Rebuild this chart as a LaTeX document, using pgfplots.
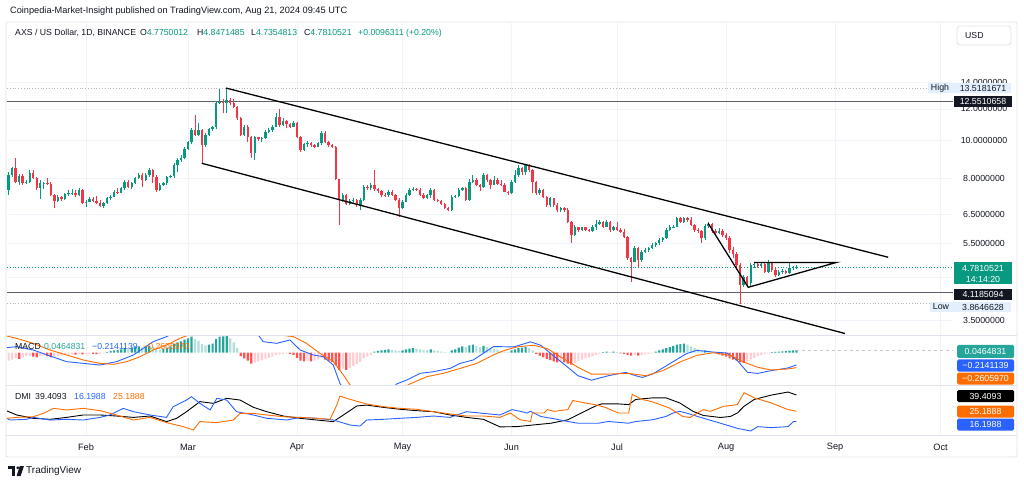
\documentclass[border=0pt]{standalone}
\usepackage{fontspec}
\setmainfont{Liberation Sans}
\usepackage{pgfplots}
\usepackage{pgfplotstable}
\pgfplotsset{compat=1.18}
\definecolor{upc}{HTML}{089981}
\definecolor{dnc}{HTML}{F23645}
\definecolor{hG}{HTML}{26A69A}
\definecolor{hg}{HTML}{B2DFDB}
\definecolor{hR}{HTML}{FF5252}
\definecolor{hr}{HTML}{FFCDD2}
\definecolor{tvblue}{HTML}{2962FF}
\definecolor{tvorange}{HTML}{FF6D00}
\definecolor{gridc}{HTML}{F0F3FA}
\definecolor{txt}{HTML}{131722}
\definecolor{sep}{HTML}{E0E3EB}
\definecolor{lbl}{HTML}{E3EFFD}
\definecolor{hl}{HTML}{5D606B}
\definecolor{dotc}{HTML}{B2B5BE}
\newcommand{\tf}{\fontsize{8.8bp}{10bp}\selectfont}
\newcommand{\lf}{\fontsize{9.2bp}{11bp}\selectfont}
\newcommand{\gf}{\fontsize{8.7bp}{10bp}\selectfont}
\pgfplotsset{
  pane/.style={scale only axis, width=946bp, xmin=8.54, xmax=277.52, anchor=north west,
    axis line style={draw=none}, tick style={draw=none},
    xtick={31,60,91,121,152,182,213,244,274}, xmajorgrids,
    major grid style={draw=gridc, line width=0.8bp}, clip=true,
    /pgf/number format/assume math mode=true},
  candle/.style 2 args={draw=none, mark=none, forget plot,
    error bars/.cd, y dir=plus, y explicit, error mark=none,
    error bar style={line width=#1, draw=#2, solid}},
}
\pgfplotstableread{
d o h l c u
9 7.491 8.331 7.277 8.173 1
10 8.173 8.550 8.091 8.501 1
11 8.501 9.010 7.788 7.861 0
12 7.861 8.207 7.712 8.140 1
13 8.140 8.207 7.712 7.788 0
14 7.788 7.939 7.757 7.861 1
15 7.861 8.414 7.816 8.255 1
16 8.255 8.414 7.970 8.015 0
17 8.015 8.091 7.491 7.568 0
18 7.568 7.939 7.109 7.788 1
19 7.788 7.861 7.548 7.816 1
20 7.816 8.015 7.712 7.757 0
21 7.757 7.861 7.234 7.277 0
22 7.277 7.300 6.736 7.039 0
23 7.039 7.277 6.999 7.204 1
24 7.204 7.234 7.039 7.109 0
25 7.109 7.349 7.068 7.319 1
26 7.319 7.491 7.234 7.349 1
27 7.349 7.525 7.277 7.375 1
28 7.375 7.491 7.204 7.263 0
29 7.263 7.568 7.234 7.491 1
30 7.491 7.525 6.893 6.934 0
31 6.934 7.068 6.797 6.999 1
32 6.999 7.179 6.974 7.096 1
33 7.096 7.204 6.999 7.039 0
34 7.039 7.247 6.905 6.958 0
35 6.958 7.068 6.774 6.826 0
36 6.826 6.999 6.736 6.934 1
37 6.934 7.179 6.905 7.137 1
38 7.137 7.277 7.068 7.204 1
39 7.204 7.491 7.179 7.417 1
40 7.417 7.568 7.319 7.375 0
41 7.375 7.610 7.349 7.568 1
42 7.568 7.939 7.491 7.861 1
43 7.861 7.939 7.568 7.610 0
44 7.610 7.861 7.525 7.816 1
45 7.816 8.091 7.757 8.015 1
46 8.015 8.284 7.970 8.173 1
47 8.173 8.255 7.636 7.939 0
48 7.939 8.255 7.907 8.173 1
49 8.173 8.501 8.091 8.414 1
50 8.414 8.447 7.788 8.091 0
51 8.091 8.173 7.417 7.491 0
52 7.491 7.816 7.450 7.712 1
53 7.712 7.861 7.667 7.788 1
54 7.788 8.126 7.712 8.064 1
55 8.064 8.173 8.015 8.126 1
56 8.126 8.749 8.015 8.663 1
57 8.663 9.010 8.331 8.918 1
58 8.918 9.182 8.831 9.010 1
59 9.010 9.640 8.950 9.509 1
60 9.509 9.979 9.452 9.887 1
61 9.887 10.72 9.790 10.62 1
62 10.62 11.59 10.26 10.32 0
63 10.32 11.08 10.27 10.62 1
64 10.62 10.66 8.749 9.733 0
65 9.733 10.42 9.640 10.32 1
66 10.32 10.76 10.26 10.68 1
67 10.68 10.86 10.58 10.78 1
68 10.78 12.52 10.66 12.40 1
69 12.40 13.45 12.35 12.49 1
70 12.49 12.69 11.70 12.40 0
71 12.40 13.518 11.70 12.64 1
72 12.64 12.77 12.28 12.40 0
73 12.40 12.69 12.05 12.16 0
74 12.16 12.21 11.25 11.37 0
75 11.37 11.44 10.26 10.32 0
76 10.32 10.93 10.25 10.82 1
77 10.82 10.93 9.922 10.21 0
78 10.21 10.26 9.010 9.272 0
79 9.272 10.26 8.918 10.18 1
80 10.18 10.21 9.979 10.06 0
81 10.06 10.21 9.904 10.12 1
82 10.12 10.62 10.05 10.52 1
83 10.52 10.72 10.42 10.62 1
84 10.62 10.93 10.52 10.82 1
85 10.82 11.70 10.78 11.48 1
86 11.48 11.97 10.82 10.93 0
87 10.93 11.39 10.86 11.18 1
88 11.18 11.25 10.74 10.99 0
89 10.99 11.08 10.74 10.82 0
90 10.82 11.18 10.78 11.06 1
91 11.06 11.12 10.14 10.21 0
92 10.21 10.25 9.342 9.452 0
93 9.452 9.847 9.400 9.790 1
94 9.790 9.962 9.640 9.865 1
95 9.865 9.904 9.640 9.733 0
96 9.733 9.790 9.565 9.640 0
97 9.640 9.904 9.603 9.830 1
98 9.830 10.58 9.733 10.46 1
99 10.46 10.56 9.865 9.922 0
100 9.922 9.980 9.640 9.733 0
101 9.733 9.790 9.565 9.640 0
102 9.640 9.693 7.939 7.970 0
103 7.970 8.000 6.112 7.068 0
104 7.068 7.361 6.999 7.277 1
105 7.277 7.310 6.866 6.905 0
106 6.905 7.109 6.866 7.039 1
107 7.039 7.151 6.934 7.068 1
108 7.068 7.109 6.797 6.866 0
109 6.866 7.137 6.668 7.068 1
110 7.068 7.712 7.027 7.636 1
111 7.636 7.712 7.491 7.568 0
112 7.568 7.788 7.491 7.712 1
113 7.712 8.414 7.448 7.525 0
114 7.525 7.579 7.361 7.448 0
115 7.448 7.491 7.192 7.277 0
116 7.277 7.361 7.192 7.256 0
117 7.256 7.491 7.192 7.417 1
118 7.417 7.491 7.234 7.277 0
119 7.277 7.319 7.027 7.068 0
120 7.068 7.151 6.413 6.736 0
121 6.736 7.068 6.708 6.999 1
122 6.999 7.349 6.986 7.277 1
123 7.277 7.568 7.234 7.491 1
124 7.491 7.610 7.448 7.525 1
125 7.525 7.579 7.426 7.491 0
126 7.491 7.579 7.234 7.277 0
127 7.277 7.349 7.096 7.137 0
128 7.137 7.319 7.109 7.277 1
129 7.277 7.568 7.137 7.491 1
130 7.491 7.534 7.027 7.068 0
131 7.068 7.109 6.999 7.039 0
132 7.039 7.068 6.866 6.905 0
133 6.905 6.934 6.708 6.736 0
134 6.736 6.797 6.629 6.668 0
135 6.668 7.277 6.629 7.204 1
136 7.204 7.289 7.137 7.234 1
137 7.234 7.568 7.192 7.491 1
138 7.491 7.622 7.448 7.568 1
139 7.568 7.622 7.027 7.068 0
140 7.068 7.985 7.027 7.861 1
141 7.861 8.159 7.802 7.939 1
142 7.939 8.032 7.667 7.712 0
143 7.712 7.757 7.448 7.610 0
144 7.610 8.255 7.579 8.173 1
145 8.173 8.200 7.861 7.939 0
146 7.939 7.985 7.534 7.712 0
147 7.712 8.146 7.690 7.939 1
148 7.939 8.032 7.712 7.757 0
149 7.757 7.939 7.667 7.712 0
150 7.712 7.788 7.383 7.417 0
151 7.417 7.448 7.296 7.349 0
152 7.349 7.939 7.300 7.861 1
153 7.861 8.414 7.788 8.173 1
154 8.173 8.663 8.078 8.501 1
155 8.501 8.562 8.173 8.317 0
156 8.317 8.713 8.173 8.663 1
157 8.663 8.700 8.317 8.414 0
158 8.414 8.450 7.349 7.861 0
159 7.861 7.900 7.277 7.349 0
160 7.349 7.568 7.277 7.491 1
161 7.491 7.530 7.151 7.204 0
162 7.204 7.240 6.797 6.866 0
163 6.866 7.204 6.797 7.137 1
164 7.137 7.161 6.797 6.866 0
165 6.866 6.934 6.591 6.668 0
166 6.668 6.797 6.603 6.736 1
167 6.736 6.770 6.591 6.668 0
168 6.668 6.736 6.172 6.230 0
169 6.230 6.260 5.514 5.767 0
170 5.767 6.112 5.740 6.030 1
171 6.030 6.051 5.879 5.937 0
172 5.937 6.051 5.903 6.030 1
173 6.030 6.041 5.903 5.937 0
174 5.937 5.977 5.868 5.913 0
175 5.913 6.112 5.868 6.051 1
176 6.051 6.292 5.937 6.147 1
177 6.147 6.292 6.112 6.230 1
178 6.230 6.266 6.006 6.051 0
179 6.051 6.292 6.030 6.230 1
180 6.230 6.260 5.879 5.937 0
181 5.937 6.076 5.903 6.030 1
182 6.030 6.230 5.903 5.937 0
183 5.937 6.006 5.834 5.879 0
184 5.879 5.961 5.667 5.690 0
185 5.690 5.720 4.986 5.038 0
186 5.038 5.080 4.396 4.937 0
187 4.937 5.409 4.928 5.336 1
188 5.336 5.370 4.795 4.986 0
189 4.986 5.285 4.928 5.233 1
190 5.233 5.336 5.185 5.285 1
191 5.285 5.378 5.233 5.336 1
192 5.336 5.494 5.306 5.441 1
193 5.441 5.546 5.386 5.494 1
194 5.494 5.659 5.441 5.601 1
195 5.601 5.700 5.546 5.659 1
196 5.659 5.994 5.640 5.937 1
197 5.937 6.112 5.910 6.030 1
198 6.030 6.112 5.994 6.051 1
199 6.051 6.413 6.030 6.356 1
200 6.356 6.413 6.183 6.230 0
201 6.230 6.413 6.200 6.356 1
202 6.356 6.413 6.230 6.292 0
203 6.292 6.413 6.076 6.112 0
204 6.112 6.140 5.879 5.937 0
205 5.937 6.006 5.824 5.903 0
206 5.903 5.937 5.494 5.659 0
207 5.659 6.147 5.601 6.076 1
208 6.076 6.219 6.006 6.147 1
209 6.147 6.183 5.834 5.903 0
210 5.903 5.971 5.767 5.834 0
211 5.834 6.006 5.800 5.903 1
212 5.903 5.971 5.700 5.767 0
213 5.767 5.834 5.601 5.667 0
214 5.667 5.733 5.194 5.285 0
215 5.285 5.378 5.045 5.163 0
216 5.163 5.224 4.760 4.843 0
217 4.843 4.900 3.8646 4.312 0
218 4.312 4.570 4.262 4.517 1
219 4.517 4.544 4.287 4.362 0
220 4.362 4.900 4.287 4.843 1
221 4.843 4.928 4.760 4.871 1
222 4.871 4.928 4.760 4.815 0
223 4.815 4.928 4.760 4.871 1
224 4.871 4.928 4.624 4.650 0
225 4.650 4.986 4.624 4.900 1
226 4.900 4.928 4.650 4.705 0
227 4.705 4.760 4.517 4.570 0
228 4.570 4.705 4.544 4.650 1
229 4.650 4.732 4.597 4.678 1
230 4.678 4.705 4.597 4.624 0
231 4.624 4.900 4.597 4.760 1
232 4.760 4.820 4.700 4.775 1
233 4.775 4.8471 4.7355 4.7811 1
}\candles
% k: 1 dark green, 2 light green, 3 dark red, 4 light red
\pgfplotstableread{
d v k
9 -0.14 4
10 -0.12 4
11 -0.10 4
12 -0.11 3
13 -0.08 4
14 -0.06 4
15 -0.05 4
16 -0.07 3
17 -0.08 3
18 -0.06 4
19 -0.05 4
20 -0.06 3
21 -0.08 3
22 -0.07 4
23 -0.06 4
24 -0.05 4
25 -0.04 4
26 -0.035 4
27 -0.03 4
28 -0.035 3
29 -0.025 4
30 -0.03 3
31 -0.02 4
32 -0.015 4
33 -0.02 3
34 -0.025 3
35 -0.02 4
36 -0.01 4
37 0.01 1
38 0.03 1
39 0.04 1
40 0.05 1
41 0.06 1
42 0.08 1
43 0.07 2
44 0.09 1
45 0.10 1
46 0.11 1
47 0.09 2
48 0.10 1
49 0.12 1
50 0.10 2
51 0.07 2
52 0.06 2
53 0.07 1
54 0.09 1
55 0.11 1
56 0.15 1
57 0.18 1
58 0.20 1
59 0.23 1
60 0.25 1
61 0.28 1
62 0.24 2
63 0.21 2
64 0.15 2
65 0.13 2
66 0.14 1
67 0.16 1
68 0.24 1
69 0.28 1
70 0.285 1
71 0.29 1
72 0.25 2
73 0.18 2
74 0.08 2
75 -0.06 3
76 -0.10 3
77 -0.14 3
78 -0.19 3
79 -0.17 4
80 -0.15 4
81 -0.13 4
82 -0.11 4
83 -0.09 4
84 -0.07 4
85 -0.04 4
86 -0.03 4
87 -0.02 4
88 -0.01 4
89 -0.02 3
90 -0.04 3
91 -0.09 3
92 -0.14 3
93 -0.15 3
94 -0.14 4
95 -0.15 3
96 -0.14 4
97 -0.12 4
98 -0.10 4
99 -0.12 3
100 -0.14 3
101 -0.16 3
102 -0.22 3
103 -0.30 3
104 -0.28 4
105 -0.30 3
106 -0.27 4
107 -0.23 4
108 -0.20 4
109 -0.16 4
110 -0.10 4
111 -0.07 4
112 -0.04 4
113 0.02 1
114 0.03 1
115 0.04 1
116 0.05 1
117 0.06 1
118 0.05 2
119 0.04 2
120 0.03 2
121 0.04 1
122 0.06 1
123 0.07 1
124 0.08 1
125 0.07 2
126 0.06 2
127 0.05 2
128 0.045 2
129 0.06 1
130 0.04 2
131 0.03 2
132 0.02 2
133 0.01 2
134 0.005 2
135 0.04 1
136 0.06 1
137 0.09 1
138 0.11 1
139 0.10 2
140 0.13 1
141 0.14 1
142 0.12 2
143 0.10 2
144 0.12 1
145 0.10 2
146 0.08 2
147 0.07 2
148 0.05 2
149 0.03 2
150 0.02 2
151 0.01 2
152 0.04 1
153 0.06 1
154 0.08 1
155 0.09 1
156 0.10 1
157 0.08 2
158 0.04 2
159 -0.02 3
160 -0.05 3
161 -0.08 3
162 -0.11 3
163 -0.13 3
164 -0.15 3
165 -0.17 3
166 -0.16 4
167 -0.17 3
168 -0.19 3
169 -0.21 3
170 -0.18 4
171 -0.15 4
172 -0.12 4
173 -0.10 4
174 -0.08 4
175 -0.06 4
176 -0.04 4
177 -0.02 4
178 0.01 1
179 0.02 1
180 0.01 2
181 0.02 1
182 0.01 2
183 -0.01 3
184 -0.02 3
185 -0.04 3
186 -0.05 3
187 -0.04 4
188 -0.05 3
189 -0.04 4
190 -0.03 4
191 -0.02 4
192 -0.01 4
193 0.02 1
194 0.04 1
195 0.06 1
196 0.08 1
197 0.10 1
198 0.12 1
199 0.14 1
200 0.15 1
201 0.16 1
202 0.14 2
203 0.11 2
204 0.08 2
205 0.06 2
206 0.03 2
207 0.04 1
208 0.03 2
209 0.01 2
210 -0.01 3
211 -0.03 3
212 -0.05 3
213 -0.07 3
214 -0.10 3
215 -0.12 3
216 -0.14 3
217 -0.17 3
218 -0.18 3
219 -0.15 4
220 -0.12 4
221 -0.09 4
222 -0.06 4
223 -0.04 4
224 -0.02 4
225 -0.01 4
226 0.01 1
227 0.015 1
228 0.02 1
229 0.025 1
230 0.03 1
231 0.035 1
232 0.04 1
233 0.0465 1
}\hist
\begin{document}
\begin{tikzpicture}
\begin{scope}[x=1bp,y=1bp]
\fill[white] (0,0) rectangle (1024,-485);
\path[use as bounding box] (0,0) rectangle (1024,-485);
\node[anchor=west, font=\lf, text=txt, inner sep=0] at (10,-11) {Coinpedia-Market-Insight published on TradingView.com, Aug 21, 2024 09:45 UTC};
\draw[sep, line width=0.8bp, rounded corners=2bp] (6,-22) rectangle (1017,-457);
\end{scope}

% ---------------- price pane
\begin{axis}[pane, at={(7bp,-22bp)}, height=313bp, ymode=log, ymin=3.2239, ymax=19.894,
  ytick={3.5,4.5,5.5,6.5,8,10,12,14},
  yticklabels={3.5000000,{},5.5000000,6.5000000,8.0000000,10.0000000,12.0000000,14.0000000},
  ymajorgrids, yticklabel pos=right,
  yticklabel style={anchor=center, xshift=31bp, font=\tf, text=txt},
  xticklabels={}]
\addplot[dotc, dotted, line width=0.8bp] coordinates {(8.54,13.518) (277.52,13.518)};
\addplot[dotc, dotted, line width=0.8bp] coordinates {(8.54,3.8646) (277.52,3.8646)};
\addplot[upc, dotted, line width=0.8bp] coordinates {(8.54,4.7811) (277.52,4.7811)};
\addplot[hl, line width=1.2bp] coordinates {(8.54,12.551) (277.52,12.551)};
\addplot[hl, line width=1.2bp] coordinates {(8.54,4.1185) (277.52,4.1185)};
% wicks
\addplot[restrict expr to domain={\thisrow{u}}{0.5:1.5}, candle={0.8bp}{upc}]
  table[x=d, y=l, y error plus expr={\thisrow{h}-\thisrow{l}}]{\candles};
\addplot[restrict expr to domain={\thisrow{u}}{-0.5:0.5}, candle={0.8bp}{dnc}]
  table[x=d, y=l, y error plus expr={\thisrow{h}-\thisrow{l}}]{\candles};
% bodies
\addplot[restrict expr to domain={\thisrow{u}}{0.5:1.5}, candle={2.4bp}{upc}]
  table[x=d, y=o, y error plus expr={\thisrow{c}-\thisrow{o}}]{\candles};
\addplot[restrict expr to domain={\thisrow{u}}{-0.5:0.5}, candle={2.4bp}{dnc}]
  table[x=d, y=c, y error plus expr={\thisrow{o}-\thisrow{c}}]{\candles};
\addplot[black, line width=1.3bp] coordinates {(70.8,13.55) (259.1,5.065)};
\addplot[black, line width=1.3bp] coordinates {(63.9,8.75) (246.8,3.252)};
\addplot[black, line width=1.3bp] coordinates {(207.9,6.172) (219.3,4.254) (244.3,4.914) (221.0,4.914)};
\end{axis}

% ---------------- MACD pane
\begin{axis}[pane, at={(7bp,-335bp)}, height=50bp, ymin=-0.5667, ymax=0.3105, ytick=\empty, xticklabels={}]
\addplot[ybar, bar shift=0pt, bar width=2.2bp, fill=hG, draw=none, restrict expr to domain={\thisrow{k}}{0.5:1.5}] table[x=d, y=v]{\hist};
\addplot[ybar, bar shift=0pt, bar width=2.2bp, fill=hg, draw=none, restrict expr to domain={\thisrow{k}}{1.5:2.5}] table[x=d, y=v]{\hist};
\addplot[ybar, bar shift=0pt, bar width=2.2bp, fill=hR, draw=none, restrict expr to domain={\thisrow{k}}{2.5:3.5}] table[x=d, y=v]{\hist};
\addplot[ybar, bar shift=0pt, bar width=2.2bp, fill=hr, draw=none, restrict expr to domain={\thisrow{k}}{3.5:4.5}] table[x=d, y=v]{\hist};
\addplot[gray!45, dashed, line width=0.6bp] coordinates {(233,0.0465) (277.52,0.0465)};
\addplot[tvblue, line width=0.9bp] coordinates {(6.5,0.077) (11.3,0.106) (16,0.047) (20.8,-0.058) (25.5,-0.157) (30.2,-0.187) (35,-0.216) (39.7,-0.157) (44.5,-0.040) (47.3,0.077) (50.1,0.194) (53.9,0.281) (55.8,0.340) (60,0.6) (65,0.9) (70,1.1) (75,0.9) (78,0.5) (80,0.31) (81.4,0.194) (85.2,0.164) (89,0.223) (91.9,0.047) (95.6,-0.040) (98.5,-0.070) (101.3,-0.216) (103.2,-0.538) (106,-0.8) (110,-1.0) (115,-0.85) (119.3,-0.549) (122.2,-0.479) (126,-0.362) (129.8,-0.333) (134.5,-0.275) (137.4,-0.187) (141.1,-0.128) (144,-0.011) (146.8,0.106) (148.7,0.106) (152.6,0.101) (157.4,0.190) (160.3,0.131) (163.2,-0.018) (168,-0.256) (170.9,-0.404) (174.7,-0.482) (179.5,-0.404) (184.4,-0.345) (187.3,-0.404) (189.2,-0.434) (192.1,-0.375) (196.9,-0.196) (201.7,-0.018) (204.6,0.041) (209.4,0.011) (213.3,-0.006) (216.2,-0.137) (219.1,-0.345) (222,-0.363) (225.8,-0.315) (230.6,-0.268) (233,-0.214)};
\addplot[tvorange, line width=0.9bp] coordinates {(6.5,0.32) (11.3,0.252) (16,0.164) (20.8,0.047) (25.5,-0.040) (30.2,-0.128) (35,-0.187) (38.8,-0.204) (42.6,-0.157) (46.4,-0.070) (50.1,0.047) (53.9,0.135) (57.7,0.252) (60.6,0.32) (65,0.55) (70,0.8) (75,0.85) (80,0.7) (84,0.45) (86.2,0.310) (90,0.281) (93.7,0.164) (97.5,-0.011) (101.3,-0.157) (104.2,-0.391) (106.1,-0.567) (110,-0.75) (115,-0.8) (120,-0.65) (123.1,-0.549) (127.9,-0.421) (132.6,-0.362) (137.4,-0.275) (142.1,-0.187) (146.8,-0.040) (150,0.041) (153.5,0.101) (158.3,0.131) (162.2,0.071) (166,-0.077) (170.9,-0.256) (174.7,-0.375) (179.5,-0.375) (185.3,-0.363) (190.2,-0.404) (195,-0.315) (199.8,-0.166) (204.6,-0.048) (209.4,0.000) (214.2,-0.048) (218.1,-0.166) (222,-0.256) (225.8,-0.303) (230.6,-0.285) (233,-0.261)};
\end{axis}

% ---------------- DMI pane
\begin{axis}[pane, at={(7bp,-385bp)}, height=50bp, ymin=4.37, ymax=48.16, ytick=\empty,
  xticklabels={Feb,Mar,Apr,May,Jun,Jul,Aug,Sep,Oct},
  xticklabel style={anchor=center, yshift=-12bp, font=\lf, text=txt}]
\addplot[black, line width=0.9bp] coordinates {(8.5,25.5) (11.3,21.9) (16,19.0) (20.8,18.1) (25.5,19.8) (30.2,21.9) (35,21.9) (39.7,21.0) (44.5,19.8) (49.2,21.0) (53.9,16.1) (56.8,19.0) (59.6,24.8) (63.4,33.6) (67.2,32.1) (71.0,36.5) (74.8,35.0) (78.6,28.6) (82.4,24.8) (87.1,21.0) (91.9,19.0) (96.6,17.5) (101.3,16.1) (104.2,21.9) (108,29.8) (110.8,30.6) (115.5,28.6) (120.3,26.9) (125,25.7) (129.8,24.8) (134.5,21.9) (139.2,19.8) (144,18.1) (148.7,11.5) (153.5,11.7) (158.3,13.2) (163.2,14.7) (168,17.7) (172.8,25.1) (175.7,29.5) (177.6,31.6) (182.4,31.6) (185.3,31.0) (187.3,35.5) (192.1,36.9) (195.9,36.9) (199.8,32.5) (203.6,25.1) (206.5,21.5) (211.4,19.7) (214.2,20.6) (216.2,23.6) (218.1,29.5) (221,35.5) (225.8,39.3) (230.6,42.0) (233,39.4)};
\addplot[tvblue, line width=0.9bp] coordinates {(8.5,19.0) (9.4,17.5) (14.1,18.1) (16,19.8) (20.8,17.5) (25.5,18.1) (30.2,17.5) (35,19.8) (37.8,21.9) (41.6,27.7) (44.5,24.8) (49.2,21.9) (53.9,19.8) (55.8,29.2) (59.6,35.0) (61,37.9) (63.4,32.1) (66.3,26.3) (68.2,36.5) (71,35.0) (73.8,24.8) (78.6,21.9) (82.4,19.0) (88.1,17.5) (91.9,19.8) (96.6,19.0) (99.4,18.1) (101.3,17.5) (106.1,13.1) (108.9,12.2) (110.8,17.5) (115.5,18.1) (120.3,19.0) (125,19.8) (129.8,21.0) (134.5,19.8) (139.2,24.8) (144,23.3) (148.7,21.9) (152.1,26.6) (154.5,25.1) (156.4,23.6) (157.4,25.1) (160.3,20.6) (164.1,18.6) (168,16.2) (170.9,14.7) (176.7,14.7) (179.5,16.2) (185.3,14.7) (187.3,16.2) (192.1,17.7) (195.9,20.6) (197.9,23.6) (199.8,25.1) (201.7,23.6) (206.5,19.1) (211.4,14.7) (216.2,10.2) (220,7.9) (222,11.7) (225.8,10.8) (230.6,11.7) (232.2,16.2) (233,16.2)};
\addplot[tvorange, line width=0.9bp] coordinates {(8.5,19.0) (11.3,19.8) (16,20.4) (18.9,23.3) (21.7,27.7) (25.5,26.3) (30.2,27.7) (35,25.7) (39.7,21.9) (44.5,17.5) (49.2,19.8) (53.9,15.2) (58.7,11.7) (61.5,8.8) (63.4,16.1) (68.2,15.2) (72.9,17.5) (74.8,23.3) (78.6,23.3) (82.4,21.9) (87.1,20.4) (91.9,19.8) (96.6,19.0) (100.4,18.1) (102.3,30.6) (103.2,38.5) (106.1,35.6) (110.8,31.5) (115.5,29.2) (120.3,27.7) (125,26.9) (129.8,24.8) (134.5,22.8) (139.2,21.0) (144,21.0) (148.7,19.8) (151.6,23.6) (154.5,17.7) (157.4,16.2) (157.9,23.6) (161.2,23.6) (162.2,26.6) (164.1,25.1) (168,26.6) (169.4,34.6) (172.8,32.5) (175.7,31.0) (178.6,28.6) (182.4,23.6) (185.3,23.6) (186.3,39.9) (189.2,35.5) (192.1,33.4) (196.9,28.0) (200.7,20.6) (202.7,19.7) (206.5,26.6) (208.5,25.1) (212.3,29.5) (216.2,31.0) (218.1,41.4) (221,36.9) (225.8,32.5) (230.6,26.6) (233,25.19)};
\end{axis}

\begin{scope}[x=1bp,y=1bp]
% separators
\draw[sep, line width=0.8bp] (6,-335) -- (1017,-335);
\draw[sep, line width=0.8bp] (6,-385) -- (1017,-385);
\draw[sep, line width=0.6bp] (6,-435) -- (1017,-435);

% legends
\node[anchor=west, font=\gf, text=txt, inner sep=0] at (15,-33) {AXS / US Dollar, 1D, BINANCE};
\node[anchor=west, font=\gf, inner sep=0] at (140,-33) {\textcolor{txt}{O}\textcolor{upc}{4.7750012}};
\node[anchor=west, font=\gf, inner sep=0] at (197,-33) {\textcolor{txt}{H}\textcolor{upc}{4.8471485}};
\node[anchor=west, font=\gf, inner sep=0] at (251,-33) {\textcolor{txt}{L}\textcolor{upc}{4.7354813}};
\node[anchor=west, font=\gf, inner sep=0] at (304,-33) {\textcolor{txt}{C}\textcolor{upc}{4.7810521}};
\node[anchor=west, font=\gf, text=upc, inner sep=0] at (358,-33) {+0.0096311 (+0.20\%)};
\draw[sep, line width=0.8bp, rounded corners=3bp] (957,-26) rectangle (1011,-45);
\node[anchor=west, font=\gf, text=txt, inner sep=0] at (965,-35.5) {USD};

\node[anchor=west, font=\gf, text=txt, inner sep=0] at (15,-347) {MACD};
\node[anchor=west, font=\gf, text=hG, inner sep=0] at (44,-347) {0.0464831};
\node[anchor=west, font=\gf, text=tvblue, inner sep=0] at (92,-347) {−0.2141139};
\node[anchor=west, font=\gf, text=tvorange, inner sep=0] at (143,-347) {−0.2605970};
\node[anchor=west, font=\gf, text=txt, inner sep=0] at (15,-397) {DMI};
\node[anchor=west, font=\gf, text=txt, inner sep=0] at (35,-397) {39.4093};
\node[anchor=west, font=\gf, text=tvblue, inner sep=0] at (74,-397) {16.1988};
\node[anchor=west, font=\gf, text=tvorange, inner sep=0] at (113,-397) {25.1888};

% right price labels
\fill[lbl] (928,-82.7) rectangle (1011,-93.5);
\node[font=\tf, text=txt, inner sep=0] at (940,-88.1) {High};
\node[font=\tf, text=txt, inner sep=0] at (983,-88.1) {13.5181671};
\fill[txt] (954,-96) rectangle (1012,-107);
\node[font=\tf, text=white, inner sep=0] at (983,-101.5) {12.5510658};
\fill[upc] (954,-262) rectangle (1012,-284.5);
\node[font=\tf, text=white, inner sep=0] at (983,-268.8) {4.7810521};
\node[font=\tf, text=white, inner sep=0] at (983,-279) {14:14:20};
\fill[txt] (954,-289) rectangle (1012,-299.6);
\node[font=\tf, text=white, inner sep=0] at (983,-294.3) {4.1185094};
\fill[lbl] (930,-301.7) rectangle (1011,-312.3);
\node[font=\tf, text=txt, inner sep=0] at (941,-307) {Low};
\node[font=\tf, text=txt, inner sep=0] at (983,-307) {3.8646628};
% indicator labels
\fill[hG, rounded corners=1.5bp] (957,-345) rectangle (1014,-358);
\node[font=\tf, text=white, inner sep=0] at (985.5,-351.5) {0.0464831};
\fill[tvblue, rounded corners=1.5bp] (957,-359.5) rectangle (1014,-371.5);
\node[font=\tf, text=white, inner sep=0] at (985.5,-365.5) {−0.2141139};
\fill[tvorange, rounded corners=1.5bp] (957,-372.5) rectangle (1014,-384.5);
\node[font=\tf, text=white, inner sep=0] at (985.5,-378.5) {−0.2605970};
\fill[black, rounded corners=1.5bp] (957,-390) rectangle (1014,-402);
\node[font=\tf, text=white, inner sep=0] at (985.5,-396) {39.4093};
\fill[tvorange, rounded corners=1.5bp] (957,-405.5) rectangle (1014,-417.5);
\node[font=\tf, text=white, inner sep=0] at (985.5,-411.5) {25.1888};
\fill[tvblue, rounded corners=1.5bp] (957,-418.5) rectangle (1014,-430.5);
\node[font=\tf, text=white, inner sep=0] at (985.5,-424.5) {16.1988};

% TradingView logo
\fill[txt] (8,-466) rectangle (15,-469);
\fill[txt] (12,-466) rectangle (15,-476);
\fill[txt] (17.8,-467.8) circle (1.6);
\fill[txt] (19.8,-466) -- (24,-466) -- (20.6,-476) -- (16.6,-476) -- cycle;
\node[anchor=west, font=\fontsize{10bp}{12bp}\selectfont, text=txt, inner sep=0] at (26,-471) {TradingView};
\end{scope}
\end{tikzpicture}
\end{document}
